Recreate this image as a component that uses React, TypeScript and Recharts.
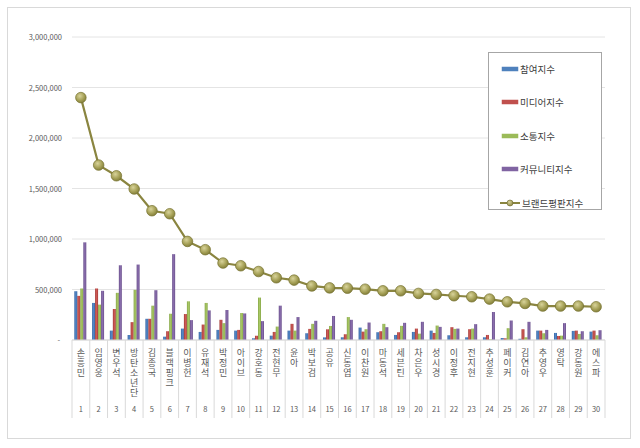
import React from "react";
import { ComposedChart, Bar, Line, XAxis, YAxis, CartesianGrid, Legend } from "recharts";

const names = ["손흥민","임영웅","변우석","방탄소년단","김종국","블랙핑크","이병헌","유재석","박정민","아이브","강호동","전현무","윤아","박보검","공유","신동엽","이찬원","마동석","세븐틴","차은우","성시경","이정후","전지현","추성훈","페이커","김연아","추영우","영탁","강동원","에스파"];
const participation = [483000,367000,93000,50000,210000,33000,113000,80000,100000,93000,17000,43000,93000,67000,26000,27000,123000,77000,50000,80000,93000,47000,27000,27000,20000,12000,93000,70000,90000,83000];
const media = [437000,510000,307000,177000,210000,87000,257000,153000,200000,100000,43000,80000,160000,110000,106000,57000,83000,87000,77000,113000,70000,127000,107000,50000,17000,107000,93000,40000,93000,93000];
const communication = [510000,350000,467000,497000,340000,260000,383000,367000,167000,267000,420000,133000,93000,160000,139000,227000,107000,160000,140000,63000,143000,110000,113000,7000,117000,27000,67000,43000,60000,47000];
const community = [967000,487000,740000,747000,493000,850000,197000,293000,297000,263000,187000,340000,227000,190000,238000,200000,173000,127000,170000,180000,130000,113000,157000,277000,193000,180000,100000,167000,87000,97000];
const brand = [2400000,1732000,1626000,1495000,1280000,1250000,976000,894000,762000,735000,678000,616000,593000,535000,516000,513000,503000,487000,487000,461000,451000,438000,428000,405000,378000,362000,336000,336000,336000,329000];
const yTicks = [0,500000,1000000,1500000,2000000,2500000,3000000];
const seriesNames = ["참여지수","미디어지수","소통지수","커뮤니티지수","브랜드평판지수"];

const data = names.map((name, i) => ({
  name,
  rank: i + 1,
  p: participation[i],
  m: media[i],
  c: communication[i],
  u: community[i],
  b: brand[i],
}));

const W = 640, H = 448;
const M = { top: 37, right: 35, left: 8, bottom: 28 };
const YW = 64, XH = 80;
const PLOT_L = M.left + YW;
const PLOT_R = W - M.right;
const Y0 = H - M.bottom - XH;
const HALF = (PLOT_R - PLOT_L) / names.length / 2;
const FONT = "'Noto Sans CJK KR', 'Noto Sans', sans-serif";

const XTick = (props: any) => {
  const { x, payload, index } = props;
  const label: string = payload.value;
  return (
    <g>
      <line x1={x - HALF} x2={x - HALF} y1={Y0} y2={Y0 + 78} stroke="#d9d9d9" strokeWidth={1} />
      {index === names.length - 1 && (
        <line x1={x + HALF} x2={x + HALF} y1={Y0} y2={Y0 + 78} stroke="#d9d9d9" strokeWidth={1} />
      )}
      <text
        x={x}
        y={Y0 + 8}
        fontSize={9}
        fill="#595959"
        fontFamily={FONT}
        style={{ writingMode: "vertical-rl", textOrientation: "upright", letterSpacing: "1px" } as any}
      >
        {label}
      </text>
      <text x={x} y={Y0 + 72} textAnchor="middle" fontSize={7.5} fill="#595959" fontFamily={FONT}>
        {index + 1}
      </text>
    </g>
  );
};

const YTick = (props: any) => {
  const { y, payload } = props;
  const v = payload.value as number;
  return (
    <text x={v === 0 ? 60 : 62} y={y + 3} textAnchor="end" fontSize={7.5} fill="#595959" fontFamily={FONT}>
      {v === 0 ? "-" : v.toLocaleString("en-US")}
    </text>
  );
};

const legendColors = ["#4f81bd", "#c0504d", "#9bbb59", "#8064a2", "#8a8540"];
const legendRows = [17, 50, 84, 117, 151];

const LegendContent = () => (
  <svg width={114} height={158} style={{ display: "block" }}>
    <rect x={0.5} y={0.5} width={113} height={157} fill="#ffffff" stroke="#a6a6a6" strokeWidth={1} />
    {seriesNames.map((s, i) => (
      <g key={s}>
        {i < 4 ? (
          <rect x={14} y={legendRows[i] - 2} width={16} height={4} fill={legendColors[i]} stroke={legendColors[i]} strokeWidth={0.5} />
        ) : (
          <g>
            <line x1={12} x2={32} y1={legendRows[i]} y2={legendRows[i]} stroke={legendColors[i]} strokeWidth={2} />
            <circle cx={22} cy={legendRows[i]} r={3} fill="url(#dotGradL)" stroke="#6e6a2e" strokeWidth={0.6} />
          </g>
        )}
        <text x={i < 4 ? 32 : 34} y={legendRows[i] + 3.5} fontSize={9.5} fill="#404040" fontFamily={FONT}>{s}</text>
      </g>
    ))}
    <defs>
      <radialGradient id="dotGradL" cx="40%" cy="35%" r="70%">
        <stop offset="0%" stopColor="#d8d39a" />
        <stop offset="100%" stopColor="#8a8540" />
      </radialGradient>
    </defs>
  </svg>
);

const renderDot = (props: any) => {
  const { cx, cy, index } = props;
  return <circle key={index} cx={cx} cy={cy} r={5.3} fill="url(#dotGrad)" stroke="#77732f" strokeWidth={0.7} />;
};

export default function App() {
  return (
    <div style={{ position: "absolute", left: 0, top: 0, width: W, height: H, background: "#ffffff" }}>
      <div style={{ position: "absolute", left: 7, top: 7, width: 624, height: 432, border: "1px solid #d9d9d9", boxSizing: "border-box" }} />
      <ComposedChart width={W} height={H} data={data} margin={M} barCategoryGap="13%" barGap={0}>
        <defs>
          <radialGradient id="dotGrad" cx="40%" cy="35%" r="70%">
            <stop offset="0%" stopColor="#d8d39a" />
            <stop offset="60%" stopColor="#a49f55" />
            <stop offset="100%" stopColor="#7e7a38" />
          </radialGradient>
          <linearGradient id="gBlue" x1="0" y1="0" x2="1" y2="0">
            <stop offset="0%" stopColor="#3a67a4" />
            <stop offset="50%" stopColor="#5388c8" />
            <stop offset="100%" stopColor="#3a67a4" />
          </linearGradient>
          <linearGradient id="gRed" x1="0" y1="0" x2="1" y2="0">
            <stop offset="0%" stopColor="#a33b38" />
            <stop offset="50%" stopColor="#d05a56" />
            <stop offset="100%" stopColor="#a33b38" />
          </linearGradient>
          <linearGradient id="gGreen" x1="0" y1="0" x2="1" y2="0">
            <stop offset="0%" stopColor="#86a648" />
            <stop offset="50%" stopColor="#a9c865" />
            <stop offset="100%" stopColor="#86a648" />
          </linearGradient>
          <linearGradient id="gPurple" x1="0" y1="0" x2="1" y2="0">
            <stop offset="0%" stopColor="#6a508c" />
            <stop offset="50%" stopColor="#8b6fae" />
            <stop offset="100%" stopColor="#6a508c" />
          </linearGradient>
        </defs>
        <CartesianGrid vertical={false} stroke="#e4e4e4" strokeWidth={1} />
        <XAxis
          dataKey="name"
          interval={0}
          height={XH}
          tickLine={false}
          axisLine={{ stroke: "#d9d9d9" }}
          tick={<XTick />}
        />
        <YAxis
          width={YW}
          domain={[0, 3000000]}
          ticks={yTicks}
          axisLine={false}
          tickLine={false}
          tick={<YTick />}
        />
        <Legend
          layout="vertical"
          align="center"
          verticalAlign="middle"
          content={<LegendContent />}
          wrapperStyle={{ position: "absolute", left: 488, top: 52, width: 114, height: 158 }}
        />
        <Bar dataKey="p" name={seriesNames[0]} fill="url(#gBlue)" isAnimationActive={false} />
        <Bar dataKey="m" name={seriesNames[1]} fill="url(#gRed)" isAnimationActive={false} />
        <Bar dataKey="c" name={seriesNames[2]} fill="url(#gGreen)" isAnimationActive={false} />
        <Bar dataKey="u" name={seriesNames[3]} fill="url(#gPurple)" isAnimationActive={false} />
        <Line
          dataKey="b"
          name={seriesNames[4]}
          type="linear"
          stroke="#8a8540"
          strokeWidth={2.2}
          dot={renderDot}
          activeDot={false}
          isAnimationActive={false}
        />
      </ComposedChart>
    </div>
  );
}
